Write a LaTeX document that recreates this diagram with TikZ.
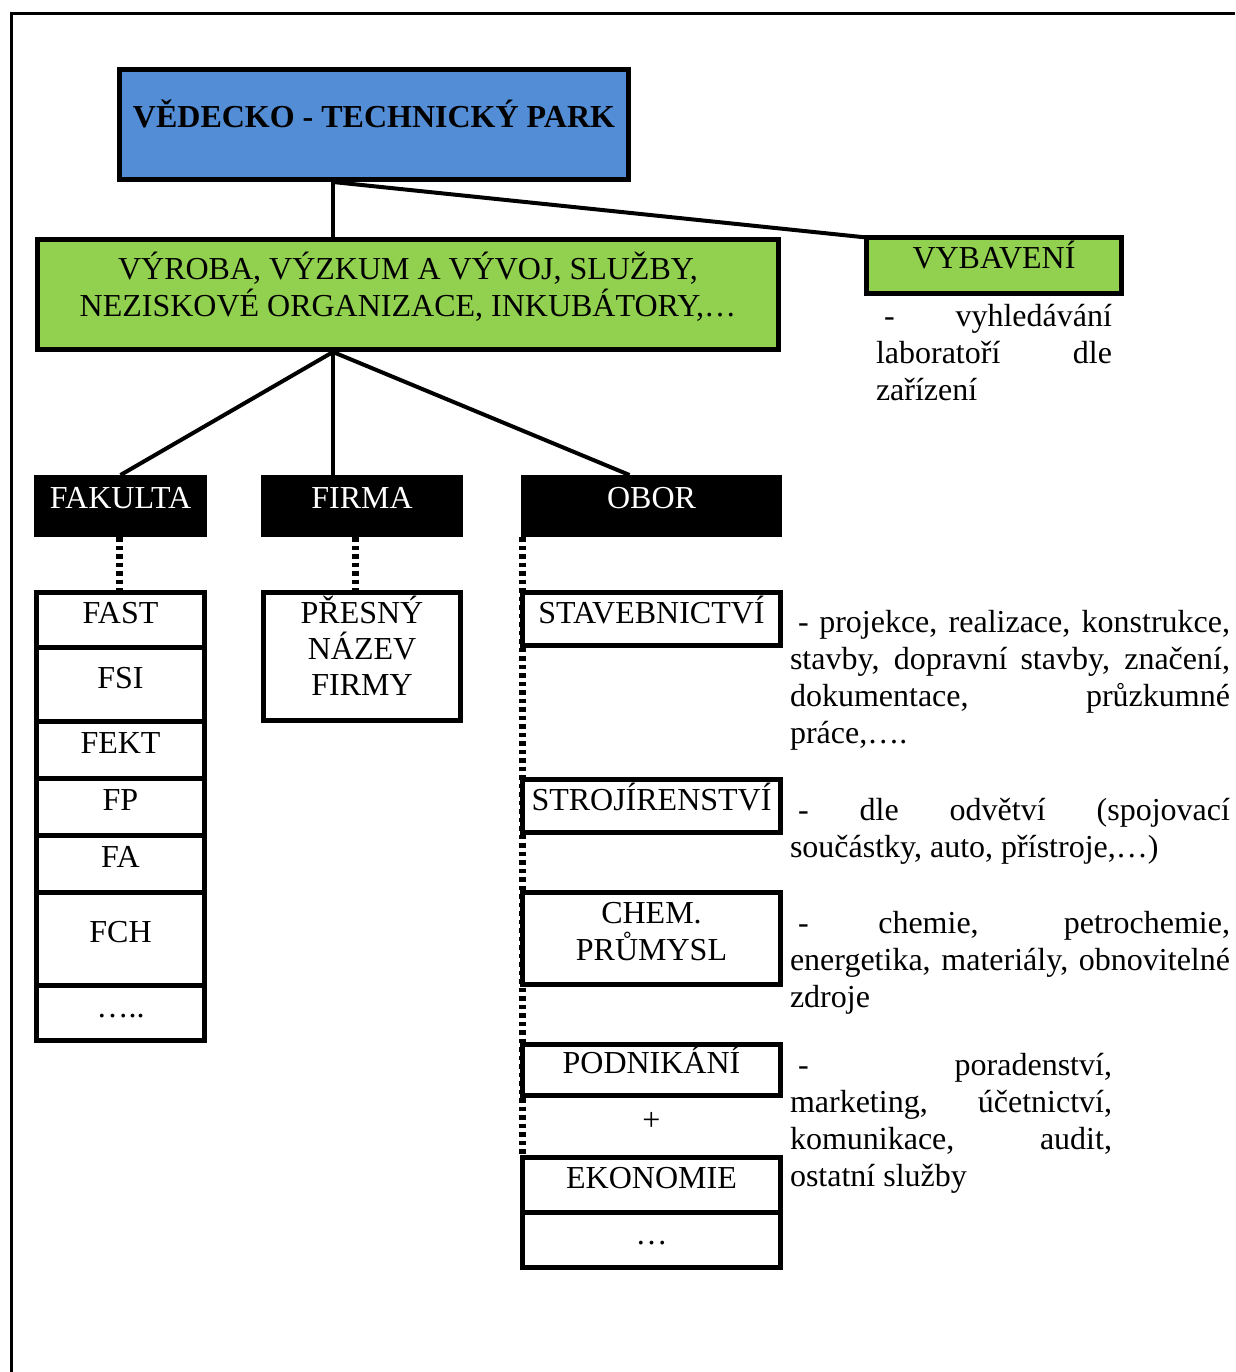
\documentclass[tikz,border=0pt]{standalone}
\usepackage{fontspec}
\setmainfont{Liberation Serif}
\usetikzlibrary{calc}
\definecolor{parkblue}{HTML}{538DD5}
\definecolor{parkgreen}{HTML}{92D050}
\newcommand{\jl}[1]{\makebox[\linewidth][s]{#1}}
\begin{document}
\begin{tikzpicture}[x=1pt,y=-1pt,
  box/.style={draw=black, line width=5pt, inner sep=0pt, outer sep=0pt, fill=white},
  blackbox/.style={fill=black, draw=none, inner sep=0pt, outer sep=0pt},
  conn/.style={line width=4pt},
  dotline/.style={line width=7pt, dash pattern=on 4.5pt off 4pt},
  txt/.style={inner sep=0pt, outer sep=0pt, anchor=base, font=\fontsize{32}{37}\selectfont},
  wtxt/.style={txt, text=white},
  note/.style={inner sep=0pt, outer sep=0pt, anchor=base west, font=\fontsize{32}{37}\selectfont},
]
\useasboundingbox (0,0) rectangle (1235,1372);
% outer frame
\draw[line width=3pt] (1235,13.5) -- (11.5,13.5) -- (11.5,1372);

% top boxes
\node[box, fill=parkblue, minimum width=509pt, minimum height=110pt] (vtp) at (374,124.5) {};
\node[txt, font=\fontsize{32}{37}\selectfont\bfseries] (vtpt) at (374,128) {VĚDECKO - TECHNICKÝ PARK};

\node[box, fill=parkgreen, minimum width=741pt, minimum height=110pt] (prod) at (408,294.5) {};
\node[txt] (prodt) at (408,279) {\parbox[t]{730pt}{\centering VÝROBA, VÝZKUM A VÝVOJ, SLUŽBY,\\NEZISKOVÉ ORGANIZACE, INKUBÁTORY,…}};

\node[box, fill=parkgreen, minimum width=255pt, minimum height=56pt] (vyb) at (994,265.5) {};
\node[txt] (vybt) at (994,269) {VYBAVENÍ};
\node[note] (vybn) at (876,326) {\parbox[t]{236pt}{\jl{\hspace*{8pt}- vyhledávání}\\\jl{laboratoří dle}\\zařízení}};

% hubs
\coordinate (hub1) at (333,182);
\coordinate (hub2) at (333,352);

% black headers
\node[blackbox, minimum width=173pt, minimum height=62pt] (fak) at (120.5,506) {};
\node[wtxt] (fakt) at (120.5,508) {FAKULTA};
\node[blackbox, minimum width=202pt, minimum height=62pt] (fir) at (362,506) {};
\node[wtxt] (firt) at (362,508) {FIRMA};
\node[blackbox, minimum width=261pt, minimum height=62pt] (obor) at (651.5,506) {};
\node[wtxt] (obort) at (651.5,508) {OBOR};

% connectors
\draw[conn] (hub1) -- (hub1 |- prod.north);
\draw[conn] (hub1) -- (vyb.north west);
\draw[conn] (hub2) -- (fak.north);
\draw[conn] (hub2) -- (hub2 |- fir.north);
\draw[conn] (hub2) -- ($(obor.north)+(-22,0)$);

% dotted connectors (drawn beneath boxes)
\coordinate (fakdot) at (119,592);
\draw[dotline] (fak.south -| fakdot) -- (fakdot);
\coordinate (firdot) at (355,592);
\draw[dotline] (fir.south -| firdot) -- (firdot);
\coordinate (obordot) at (522,1157);
\draw[dotline] (obor.south -| obordot) -- (obordot);

% faculty column
\node[box, minimum width=168pt, minimum height=54.5pt] (fast) at (120.5,619.75) {};
\node[box, minimum width=168pt, minimum height=74pt] (fsi) at (120.5,684) {};
\node[box, minimum width=168pt, minimum height=57pt] (fekt) at (120.5,749.5) {};
\node[box, minimum width=168pt, minimum height=57pt] (fp) at (120.5,806.5) {};
\node[box, minimum width=168pt, minimum height=57pt] (fa) at (120.5,863.5) {};
\node[box, minimum width=168pt, minimum height=93pt] (fch) at (120.5,938.5) {};
\node[box, minimum width=168pt, minimum height=55pt] (fdots) at (120.5,1012.5) {};
\node[txt] (fastt) at (120.5,623) {FAST};
\node[txt] (fsit) at (120.5,688) {FSI};
\node[txt] (fektt) at (120.5,753) {FEKT};
\node[txt] (fpt) at (120.5,810) {FP};
\node[txt] (fat) at (120.5,867) {FA};
\node[txt] (fcht) at (120.5,942) {FCH};
\node[txt] (fdotst) at (120.5,1017) {…..};

% firm box
\node[box, minimum width=197pt, minimum height=128pt] (pnf) at (362,656.5) {};
\node[txt, font=\fontsize{32}{36}\selectfont] (pnft) at (362,623) {\parbox[t]{190pt}{\centering PŘESNÝ\\NÁZEV\\FIRMY}};

% obor column
\node[box, minimum width=258pt, minimum height=53pt] (stav) at (651.5,619) {};
\node[txt] (stavt) at (651.5,623) {STAVEBNICTVÍ};
\node[box, minimum width=258pt, minimum height=53pt] (stroj) at (651.5,806) {};
\node[txt] (strojt) at (651.5,810) {STROJÍRENSTVÍ};
\node[box, minimum width=258pt, minimum height=92pt] (chem) at (651.5,938.5) {};
\node[txt] (chemt) at (651.5,923) {\parbox[t]{250pt}{\centering CHEM.\\PRŮMYSL}};
\node[box, minimum width=258pt, minimum height=51pt] (podn) at (651.5,1070) {};
\node[txt] (podnt) at (651.5,1073) {PODNIKÁNÍ};
\node[txt] (plus) at (651.5,1130) {+};
\node[box, minimum width=258pt, minimum height=54.5pt] (ekon) at (651.5,1184.75) {};
\node[txt] (ekont) at (651.5,1188) {EKONOMIE};
\node[box, minimum width=258pt, minimum height=55.5pt] (odots) at (651.5,1239.75) {};
\node[txt] (odotst) at (651.5,1244) {…};

% descriptions
\node[note] (d1) at (790,632) {\parbox[t]{440pt}{\jl{\hspace*{8pt}- projekce, realizace, konstrukce,}\\\jl{stavby, dopravní stavby, značení,}\\\jl{dokumentace, průzkumné}\\práce,….}};
\node[note] (d2) at (790,820) {\parbox[t]{440pt}{\jl{\hspace*{8pt}- dle odvětví (spojovací}\\součástky, auto, přístroje,…)}};
\node[note] (d3) at (790,933) {\parbox[t]{440pt}{\jl{\hspace*{8pt}- chemie, petrochemie,}\\\jl{energetika, materiály, obnovitelné}\\zdroje}};
\node[note] (d4) at (790,1075) {\parbox[t]{322pt}{\jl{\hspace*{8pt}- poradenství,}\\\jl{marketing, účetnictví,}\\\jl{komunikace, audit,}\\ostatní služby}};
\end{tikzpicture}
\end{document}
